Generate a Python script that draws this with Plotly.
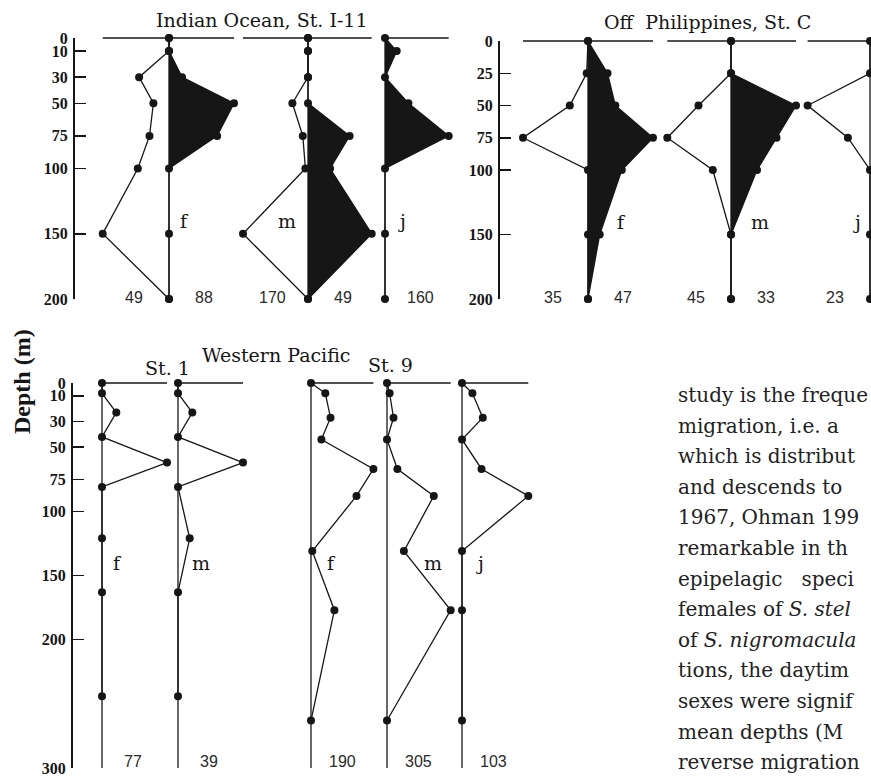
import plotly.graph_objects as go

W, H = 871, 777

# ---------------- data ----------------
# Indian Ocean, St. I-11 (day = left, open; night = right, filled)
io_depth = [0, 10, 30, 50, 75, 100, 150, 200]
io_f_day = [0, 0, 23, 12, 15, 24, 51, 0]
io_f_night = [0, 0, 10, 50, 37, 0, 0, 0]
io_m_day = [0, 0, 0, 12, 4, 2, 50, 0]
io_m_night = [0, 0, 0, 0, 32, 17, 49, 0]
io_j_night = [0, 9, 0, 18, 49, 0, 0, 0]
io_n_day = [49, 170, None]
io_n_night = [88, 49, 160]

# Off Philippines, St. C
ph_depth = [0, 25, 50, 75, 100, 150, 200]
ph_f_day = [0, 1, 14, 50, 0, 0, 0]
ph_f_night = [0, 15, 21, 50, 26, 9, 0]
ph_m_day = [0, 0, 25, 49, 14, 0, 0]
ph_m_night = [0, 0, 50, 35, 20, 0, 0]
ph_j_day = [0, 0, 48, 17, 0, 0, 0]
ph_n_day = [35, 45, 23]
ph_n_night = [47, 33, None]

# Western Pacific, St. 1 and St. 9
wp1_depth = [0, 8, 23, 42, 62, 81, 121, 163, 244]
wp1_f = [0, 0, 11, 0, 50, 0, 0, 0, 0]
wp1_m = [0, 0, 11, 0, 50, 0, 9, 0, 0]
wp9_depth = [0, 8, 27, 44, 67, 88, 131, 177, 263]
wp9_f = [0, 11, 15, 8, 48, 35, 1, 18, 0]
wp9_m = [0, 2, 5, 0, 8, 36, 13, 49, 0]
wp9_j = [0, 8, 16, 0, 15, 51, 0, 0, 0]
wp_n = [77, 39, 190, 305, 103]

io_ticks = [0, 10, 30, 50, 75, 100, 150, 200]
ph_ticks = [0, 25, 50, 75, 100, 150, 200]
wp_ticks = [0, 10, 30, 50, 75, 100, 150, 200, 300]

body_lines = [
    "study is the freque",
    "migration, i.e. a",
    "which is distribut",
    "and descends to",
    "1967, Ohman 199",
    "remarkable in th",
    "epipelagic\u00a0\u00a0 speci",
    "females of <i>S. stel</i>",
    "of <i>S. nigromacula</i>",
    "tions, the daytim",
    "sexes were signif",
    "mean depths (M",
    "reverse migration",
]

# ---------------- styling / geometry ----------------
INK = "#161616"
LINE_W = 1.3
MARK = 8
S = 1.3        # pixels per abundance unit
HALF = 80      # half-width of each column strip, px
PAD = 6        # depth padding of data axes, m
SERIF = "DejaVu Serif"
TIMES = "Liberation Serif"
SANS = "Liberation Sans"

panels = {
    "io": dict(top=38, bottom=299, dmax=200, axis_x=73, ticks=io_ticks, n_depth=199),
    "ph": dict(top=41, bottom=299, dmax=200, axis_x=498, ticks=ph_ticks, n_depth=199),
    "wp": dict(top=383, bottom=768, dmax=300, axis_x=71, ticks=wp_ticks, n_depth=295),
}

columns = [
    dict(panel="io", cx=169, depth=io_depth, left=io_f_day, right=io_f_night, fill=True,
         tag="f", tag_dx=12, n_left=io_n_day[0], n_right=io_n_night[0]),
    dict(panel="io", cx=308, depth=io_depth, left=io_m_day, right=io_m_night, fill=True,
         tag="m", tag_dx=-16, n_left=io_n_day[1], n_right=io_n_night[1]),
    dict(panel="io", cx=385, depth=io_depth, left=None, right=io_j_night, fill=True,
         tag="j", tag_dx=13, n_left=io_n_day[2], n_right=io_n_night[2]),
    dict(panel="ph", cx=588, depth=ph_depth, left=ph_f_day, right=ph_f_night, fill=True,
         tag="f", tag_dx=26, n_left=ph_n_day[0], n_right=ph_n_night[0]),
    dict(panel="ph", cx=731, depth=ph_depth, left=ph_m_day, right=ph_m_night, fill=True,
         tag="m", tag_dx=22, n_left=ph_n_day[1], n_right=ph_n_night[1]),
    dict(panel="ph", cx=870, depth=ph_depth, left=ph_j_day, right=None, fill=True,
         tag="j", tag_dx=-10, n_left=ph_n_day[2], n_right=ph_n_night[2]),
    dict(panel="wp", cx=102, depth=wp1_depth, left=None, right=wp1_f, fill=False,
         tag="f", tag_dx=12, n_left=None, n_right=wp_n[0]),
    dict(panel="wp", cx=178, depth=wp1_depth, left=None, right=wp1_m, fill=False,
         tag="m", tag_dx=18, n_left=None, n_right=wp_n[1]),
    dict(panel="wp", cx=311, depth=wp9_depth, left=None, right=wp9_f, fill=False,
         tag="f", tag_dx=16, n_left=None, n_right=wp_n[2]),
    dict(panel="wp", cx=387, depth=wp9_depth, left=None, right=wp9_m, fill=False,
         tag="m", tag_dx=35, n_left=None, n_right=wp_n[3]),
    dict(panel="wp", cx=462, depth=wp9_depth, left=None, right=wp9_j, fill=False,
         tag="j", tag_dx=14, n_left=None, n_right=wp_n[4]),
]

layout = dict(
    width=W, height=H, margin=dict(l=0, r=0, t=0, b=0, pad=0, autoexpand=False),
    paper_bgcolor="white", plot_bgcolor="rgba(0,0,0,0)",
    showlegend=False, annotations=[],
)
traces = []
counts = {"x": 0, "y": 0}


def new_axis(kind, **props):
    counts[kind] += 1
    n = counts[kind]
    suffix = "" if n == 1 else str(n)
    props.setdefault("automargin", False)
    layout[f"{kind}axis{suffix}"] = props
    return kind + suffix


def ann(text, x, y, xref="paper", yref="paper", size=18, family=SERIF, color=INK,
        weight="normal", xanchor="center", yanchor="middle", **kw):
    if xref == "paper":
        x = x / W
    if yref == "paper":
        y = 1 - y / H
    layout["annotations"].append(dict(
        text=text, x=x, y=y, xref=xref, yref=yref, showarrow=False,
        xanchor=xanchor, yanchor=yanchor,
        font=dict(family=family, size=size, color=color, weight=weight), **kw))


# depth axes: an invisible padded one for the data and a visible framed one
data_axis = {}
for name, p in panels.items():
    s = (p["bottom"] - p["top"]) / p["dmax"]
    dy = new_axis(
        "y", domain=[1 - (p["bottom"] + PAD * s) / H, 1 - (p["top"] - PAD * s) / H],
        range=[p["dmax"] + PAD, -PAD], visible=False, fixedrange=True)
    data_axis[name] = dy
    fy = new_axis(
        "y", domain=[1 - p["bottom"] / H, 1 - p["top"] / H], range=[p["dmax"], 0],
        anchor="free", position=p["axis_x"] / W, showline=True, linecolor=INK,
        linewidth=1.5, ticks="inside", ticklen=11, tickwidth=1.5, tickcolor=INK,
        tickvals=p["ticks"], showgrid=False, zeroline=False, fixedrange=True,
        ticklabelstandoff=2, ticklabeloverflow="allow",
        tickfont=dict(family=TIMES, size=16, color=INK, weight="bold"))
    fx = new_axis("x", domain=[p["axis_x"] / W, p["axis_x"] / W + 0.02], range=[0, 1],
                  visible=False, anchor=fy, fixedrange=True)
    traces.append(go.Scatter(x=[None], y=[None], xaxis=fx, yaxis=fy,
                             hoverinfo="skip", showlegend=False))

line = dict(color=INK, width=LINE_W)
marker = dict(color=INK, size=MARK)

for c in columns:
    p = panels[c["panel"]]
    dy = data_axis[c["panel"]]
    lo_px = max(0, c["cx"] - HALF)
    hi_px = min(W, c["cx"] + HALF)
    xr = new_axis("x", domain=[lo_px / W, hi_px / W],
                  range=[(lo_px - c["cx"]) / S, (hi_px - c["cx"]) / S],
                  visible=False, anchor=dy, fixedrange=True)

    # centre line through the whole depth range
    traces.append(go.Scatter(x=[0, 0], y=[0, p["dmax"]], mode="lines", line=line,
                             xaxis=xr, yaxis=dy, hoverinfo="skip"))
    # surface line spanning the column's extent
    left_max = max(c["left"]) if c["left"] else 0
    right_max = max(c["right"]) if c["right"] else 0
    traces.append(go.Scatter(x=[-left_max, right_max], y=[0, 0], mode="lines",
                             line=line, xaxis=xr, yaxis=dy, hoverinfo="skip"))
    if c["right"]:
        traces.append(go.Scatter(
            x=c["right"], y=c["depth"], mode="lines+markers", line=line, marker=marker,
            fill="toself" if c["fill"] else None,
            fillcolor=INK if c["fill"] else None,
            xaxis=xr, yaxis=dy, cliponaxis=False))
    if c["left"]:
        traces.append(go.Scatter(
            x=[-v for v in c["left"]], y=c["depth"], mode="lines+markers", line=line,
            marker=marker, xaxis=xr, yaxis=dy, cliponaxis=False))

    ann(c["tag"], c["tag_dx"], 140, xref=xr, yref=dy, size=19, family=SERIF)
    n_off = 27 if c["panel"] != "wp" else 24
    if c["n_left"] is not None:
        ann(str(c["n_left"]), -n_off, p["n_depth"], xref=xr, yref=dy, size=16,
            family=SANS, color="#2a2a2a")
    if c["n_right"] is not None:
        ann(str(c["n_right"]), n_off, p["n_depth"], xref=xr, yref=dy, size=16,
            family=SANS, color="#2a2a2a")

# titles
ann("Indian Ocean, St. I-11", 262, 20, size=19)
ann("Off\u00a0 Philippines, St. C", 707, 22, size=19)
ann("Western Pacific", 276, 355, size=19)
ann("St. 1", 167, 368, size=19)
ann("St. 9", 390, 365, size=19)
ann("Depth (m)", 22, 382, size=24, family=TIMES, weight="bold", textangle=-90)

# running text beside the lower panel
for i, txt in enumerate(body_lines):
    ann(txt, 676, 395 + 30.6 * i, size=20, family=SERIF, color="#222222",
        xanchor="left", align="left")

fig = go.Figure(data=traces, layout=layout)
fig.update_traces(showlegend=False)
fig.write_html("out.html", config={"displayModeBar": False, "staticPlot": True})
